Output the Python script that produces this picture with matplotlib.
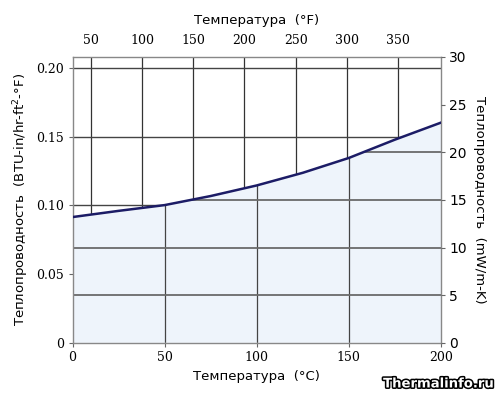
import numpy as np
import matplotlib
matplotlib.use("Agg")
import matplotlib.pyplot as plt
from matplotlib.patches import Polygon
import matplotlib.patheffects as pe

# curve: temperature (C) vs conductivity (BTU-in/hr-ft2-F)
temp_c = [0, 25, 50, 75, 100, 125, 150, 175, 200]
k_btu = [0.0915, 0.0960, 0.1002, 0.1068, 0.1145, 0.1237, 0.1345, 0.1478, 0.1602]

c_ticks = [0, 50, 100, 150, 200]
f_ticks = [50, 100, 150, 200, 250, 300, 350]
btu_ticks = [0, 0.05, 0.10, 0.15, 0.20]
mw_ticks = [0, 5, 10, 15, 20, 25, 30]

MW_PER_BTU = 144.2279
ymax = 30 / MW_PER_BTU

def c2f(c):
    return np.asarray(c) * 9 / 5 + 32

def f2c(f):
    return (np.asarray(f) - 32) * 5 / 9

fig = plt.figure(figsize=(5, 3.95), dpi=100)
ax = fig.add_axes([0.145, 0.132, 0.737, 0.724])
ax.set_xlim(0, 200)
ax.set_ylim(0, ymax)

x = np.array(temp_c, dtype=float)
y = np.array(k_btu)

# region under the curve (light blue) and above it (white)
below = Polygon(np.column_stack([np.r_[x, x[-1], x[0]], np.r_[y, 0, 0]]),
                closed=True, fc="#eef4fb", ec="none", zorder=1)
above = Polygon(np.column_stack([np.r_[x, x[-1], x[0]], np.r_[y, ymax, ymax]]),
                closed=True, fc="white", ec="none", zorder=1)
ax.add_patch(below)
ax.add_patch(above)

# upper grid: F verticals and BTU horizontals, only above the curve
for f in f_ticks:
    ln = ax.axvline(f2c(f), color="#333333", lw=0.9, zorder=2)
    ln.set_clip_path(above)
for b in btu_ticks[1:]:
    ln = ax.axhline(b, color="#444444", lw=1.0, zorder=2)
    ln.set_clip_path(above)

# lower grid: C verticals and mW horizontals, only below the curve
for c in c_ticks[1:-1]:
    ln = ax.axvline(c, color="#444444", lw=0.9, zorder=2)
    ln.set_clip_path(below)
for m in mw_ticks[1:-1]:
    ln = ax.axhline(m / MW_PER_BTU, color="#6a6a6a", lw=1.3, zorder=2)
    ln.set_clip_path(below)

ax.plot(x, y, color="#1c1c66", lw=1.8, zorder=4)

serif = ["DejaVu Serif"]
sans = ["DejaVu Sans"]

ax.set_xticks(c_ticks)
ax.set_xticklabels([str(v) for v in c_ticks], family=serif, fontsize=9)
ax.set_yticks(btu_ticks)
ax.set_yticklabels(["0"] + ["%.2f" % v for v in btu_ticks[1:]], family=serif, fontsize=9)
ax.tick_params(axis="both", direction="out", length=3, width=0.8, color="#666666", pad=3)

for s in ax.spines.values():
    s.set_color("#888888")
    s.set_linewidth(1.0)

axr = ax.twinx()
axr.set_ylim(0, 30)
axr.set_yticks(mw_ticks)
axr.set_yticklabels([str(v) for v in mw_ticks], family=sans, fontsize=10)
axr.tick_params(axis="y", direction="out", length=3, width=0.8, color="#666666", pad=3)
for s in axr.spines.values():
    s.set_visible(False)

axt = ax.twiny()
axt.set_xlim(c2f(0), c2f(200))
axt.set_xticks(f_ticks)
axt.set_xticklabels([str(v) for v in f_ticks], family=serif, fontsize=9)
axt.tick_params(axis="x", length=0, pad=7)
for s in axt.spines.values():
    s.set_visible(False)

ax.set_xlabel("Температура  (°C)", family=sans, fontsize=9.5, labelpad=4)
axt.set_xlabel("Температура  (°F)", family=sans, fontsize=9.5, labelpad=7)
ax.set_ylabel("Теплопроводность  (BTU-in/hr-ft$^2$-°F)", family=sans, fontsize=9.5, labelpad=4)
axr.set_ylabel("Теплопроводность  (mW/m-K)", family=sans, fontsize=9.5, rotation=270, labelpad=14)

fig.text(0.99, 0.028, "Thermalinfo.ru", ha="right", va="center", color="white",
         fontsize=9.5, fontweight="bold", family=sans,
         path_effects=[pe.withStroke(linewidth=2.2, foreground="black")])

fig.savefig("out.png", dpi=100)
